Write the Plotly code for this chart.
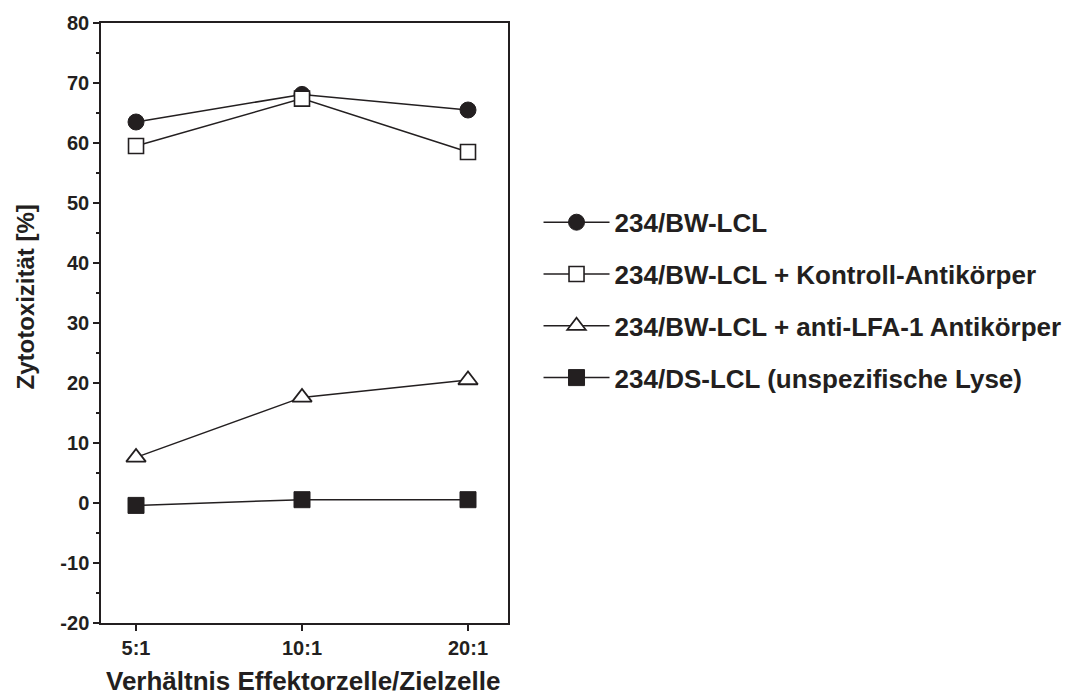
import plotly.graph_objects as go

# Effector : target ratios
ratios = ["5:1", "10:1", "20:1"]

# Cytotoxicity in percent
bw_lcl = [63.5, 68.1, 65.5]
bw_lcl_ctrl_ab = [59.5, 67.4, 58.5]
bw_lcl_lfa1_ab = [7.6, 17.6, 20.5]
ds_lcl = [-0.4, 0.55, 0.55]

series_names = [
    "234/BW-LCL",
    "234/BW-LCL + Kontroll-Antikörper",
    "234/BW-LCL + anti-LFA-1 Antikörper",
    "234/DS-LCL (unspezifische Lyse)",
]

# y tick positions and labels (plain hyphen for negatives)
y_ticks = [-20, -10, 0, 10, 20, 30, 40, 50, 60, 70, 80]
y_tick_labels = ["-20", "-10", "0", "10", "20", "30", "40", "50", "60", "70", "80"]

ink = "#231f20"
font_family = "Liberation Sans, Arial, sans-serif"

styles = [
    dict(symbol="circle", size=16, color=ink, line=dict(color=ink, width=1)),
    dict(symbol="square", size=15, color="white", line=dict(color=ink, width=1.6)),
    dict(symbol="triangle-up", size=17, color="white", line=dict(color=ink, width=1.8)),
    dict(symbol="square", size=16, color=ink, line=dict(color=ink, width=1)),
]

fig = go.Figure()
for name, values, marker in zip(series_names,
                                [bw_lcl, bw_lcl_ctrl_ab, bw_lcl_lfa1_ab, ds_lcl],
                                styles):
    fig.add_trace(go.Scatter(
        x=ratios, y=values, name=name, legendgroup=name,
        mode="lines+markers",
        line=dict(color=ink, width=1.5),
        marker=marker,
    ))

axis_font = dict(family=font_family, size=20, color=ink, weight="bold")

fig.update_layout(
    width=1085, height=696,
    margin=dict(l=101, r=577, t=16, b=73),
    paper_bgcolor="white", plot_bgcolor="white",
    showlegend=True,
    legend=dict(
        x=1.075, xanchor="left", y=0.707, yanchor="top",
        font=dict(family=font_family, size=26, color=ink, weight="bold"),
        tracegroupgap=15, itemwidth=66,
        bgcolor="rgba(0,0,0,0)", borderwidth=0,
    ),
    xaxis=dict(
        type="category", range=[-0.211, 2.241],
        showline=True, linecolor=ink, linewidth=1.5, mirror=True,
        ticks="outside", ticklen=6, tickwidth=1.5, tickcolor=ink,
        tickfont=axis_font, showgrid=False, zeroline=False,
    ),
    yaxis=dict(
        range=[-20, 80], tickmode="array",
        tickvals=y_ticks, ticktext=y_tick_labels,
        showline=True, linecolor=ink, linewidth=1.5, mirror=True,
        ticks="outside", ticklen=6, tickwidth=1.5, tickcolor=ink,
        minor=dict(dtick=5, tick0=0, ticks="outside", ticklen=3,
                   tickwidth=1.5, tickcolor=ink),
        tickfont=axis_font, showgrid=False, zeroline=False,
    ),
    annotations=[
        dict(text="Zytotoxizität [%]", textangle=-90, showarrow=False,
             xref="paper", yref="paper", x=-0.186, y=0.543,
             xanchor="center", yanchor="middle",
             font=dict(family=font_family, size=24, color=ink, weight="bold")),
        dict(text="Verhältnis Effektorzelle/Zielzelle", showarrow=False,
             xref="paper", yref="paper", x=0.496, y=-0.097,
             xanchor="center", yanchor="middle",
             font=dict(family=font_family, size=26, color=ink, weight="bold")),
    ],
)

fig.write_html("out.html")
